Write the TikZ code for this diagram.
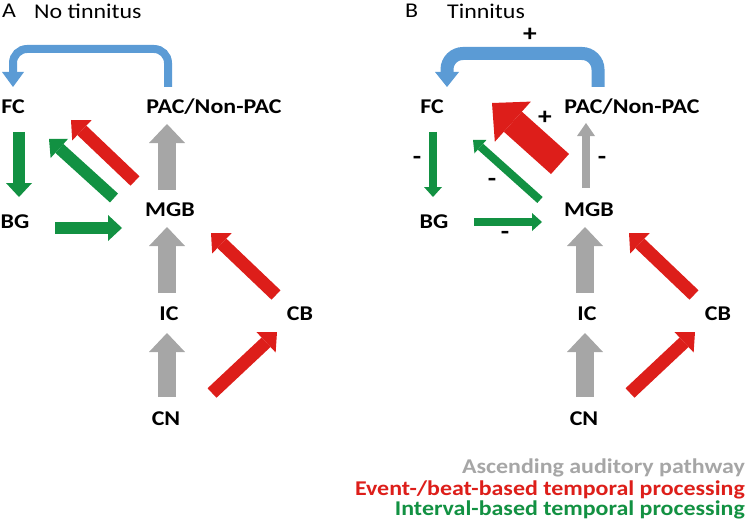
\documentclass[tikz,border=0pt]{standalone}
\usepackage{fontspec}
\setmainfont{Carlito}[FakeStretch=1.14]
\usetikzlibrary{arrows.meta}

\definecolor{ascgray}{RGB}{166,166,166}
\definecolor{beatred}{RGB}{221,30,26}
\definecolor{intgreen}{RGB}{18,145,66}
\definecolor{fbblue}{RGB}{91,155,213}

\tikzset{
    lab/.style={font=\bfseries\fontsize{21}{25}\selectfont, inner sep=0pt},
    ttl/.style={font=\fontsize{21}{25}\selectfont, inner sep=0pt, anchor=west},
    sgn/.style={font=\bfseries\fontsize{24}{28}\selectfont, inner sep=0pt},
    leg/.style={font=\bfseries\fontsize{21}{25}\selectfont, inner sep=0pt, anchor=east},
    fat/.style n args={3}{line width=#1, -{Triangle[width=#2,length=#3,line width'=0pt]}},
    asc/.style={ascgray, fat={18pt}{36pt}{19pt}},
    ascthin/.style={ascgray, fat={8pt}{18pt}{13pt}},
    beat/.style={beatred, fat={13pt}{28pt}{15pt}},
    beatthick/.style={beatred, fat={27pt}{54pt}{28pt}},
    intv/.style={intgreen, fat={12pt}{26pt}{14pt}},
    intvthin/.style={intgreen, fat={8pt}{18pt}{10pt}},
    fb/.style={fbblue, rounded corners=14pt, fat={8pt}{22pt}{15pt}},
    fbthick/.style={fbblue, rounded corners=16pt, fat={13pt}{24pt}{15pt}},
}

\begin{document}
\begin{tikzpicture}[x=1pt, y=1pt]
    \useasboundingbox (0,0) rectangle (749,-524);

    % A: no tinnitus
    \node[ttl] (ttlA) at (2,-11) {A};
    \node[ttl] (subA) at (34,-11) {No tinnitus};
    \node[lab] (fcA) at (13,-107) {FC};
    \node[lab] (pacA) at (214,-107) {PAC/Non-PAC};
    \node[lab] (bgA) at (15,-222) {BG};
    \node[lab] (mgbA) at (170,-210) {MGB};
    \node[lab] (icA) at (169,-314) {IC};
    \node[lab] (cbA) at (300,-314) {CB};
    \node[lab] (cnA) at (166,-419) {CN};

    \draw[fb] ([shift={(-46,20)}]pacA.center) -- ++(0,38) -| ([shift={(0,20)}]fcA.center);
    \draw[asc] ([shift={(-3,20)}]mgbA.center) -- ([shift={(-47,-17)}]pacA.center);
    \draw[asc] ([shift={(-2,21)}]icA.center) -- ([shift={(-3,-17)}]mgbA.center);
    \draw[asc] ([shift={(1,22)}]cnA.center) -- ([shift={(-2,-19)}]icA.center);
    \draw[beat] ([shift={(-35,29)}]mgbA.center) -- ([shift={(58,-13)}]fcA.center);
    \draw[beat] ([shift={(-24,19)}]cbA.center) -- ([shift={(41,-23)}]mgbA.center);
    \draw[beat] ([shift={(46,26)}]cnA.center) -- ([shift={(-23,-18)}]cbA.center);
    \draw[intv] ([shift={(6,-25)}]fcA.center) -- ([shift={(4,25)}]bgA.center);
    \draw[intv] ([shift={(40,-6)}]bgA.center) -- ([shift={(-48,-18)}]mgbA.center);
    \draw[intv] ([shift={(-56,12)}]mgbA.center) -- ([shift={(36,-32)}]fcA.center);

    % B: tinnitus
    \node[ttl] (ttlB) at (405,-11) {B};
    \node[ttl] (subB) at (447,-11) {Tinnitus};
    \node[lab] (fcB) at (432,-107) {FC};
    \node[lab] (pacB) at (632,-107) {PAC/Non-PAC};
    \node[lab] (bgB) at (434,-222) {BG};
    \node[lab] (mgbB) at (589,-210) {MGB};
    \node[lab] (icB) at (587,-314) {IC};
    \node[lab] (cbB) at (718,-314) {CB};
    \node[lab] (cnB) at (584,-419) {CN};

    \draw[fbthick] ([shift={(-34,20)}]pacB.center) -- ++(0,33.5) -| ([shift={(15,20)}]fcB.center);
    \draw[ascthin] ([shift={(-3,22)}]mgbB.center) -- ([shift={(-46,-16)}]pacB.center);
    \draw[asc] ([shift={(-2,21)}]icB.center) -- ([shift={(-4,-17)}]mgbB.center);
    \draw[asc] ([shift={(1,22)}]cnB.center) -- ([shift={(-2,-19)}]icB.center);
    \draw[beatthick] ([shift={(-29,46)}]mgbB.center) -- ([shift={(60,4)}]fcB.center);
    \draw[beat] ([shift={(-24,19)}]cbB.center) -- ([shift={(40,-23)}]mgbB.center);
    \draw[beat] ([shift={(46,26)}]cnB.center) -- ([shift={(-23,-18)}]cbB.center);
    \draw[intvthin] ([shift={(1,-25)}]fcB.center) -- ([shift={(-1,25)}]bgB.center);
    \draw[intvthin] ([shift={(40,0)}]bgB.center) -- ([shift={(-47,-12)}]mgbB.center);
    \draw[intvthin] ([shift={(-49,10)}]mgbB.center) -- ([shift={(41,-33)}]fcB.center);

    \node[sgn] (sfb) at (530,-35) {+};
    \node[sgn] (sbeat) at (545,-118) {+};
    \node[sgn] (sfcbg) at (417,-160) {-};
    \node[sgn] (smgbfc) at (492,-182) {-};
    \node[sgn] (sbgmgb) at (505,-235) {-};
    \node[sgn] (spac) at (602,-160) {-};

    % legend
    \node[leg, ascgray] (legasc) at (745,-468) {Ascending auditory pathway};
    \node[leg, beatred] (legbeat) at (745,-490) {Event-/beat-based temporal processing};
    \node[leg, intgreen] (legint) at (745,-510) {Interval-based temporal processing};
\end{tikzpicture}
\end{document}
